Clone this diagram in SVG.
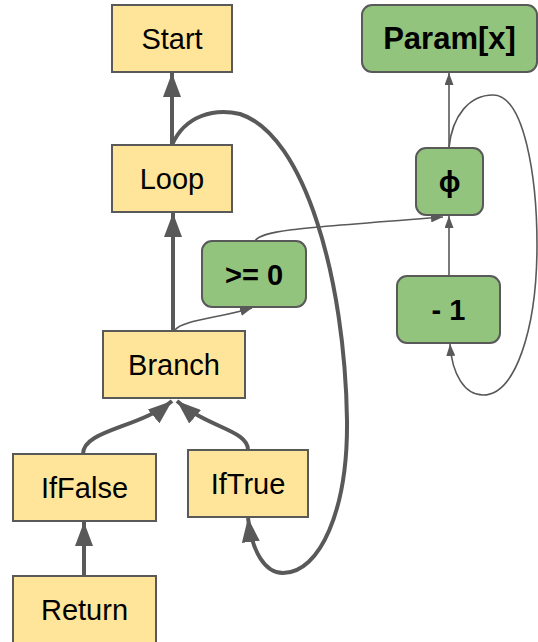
<svg xmlns="http://www.w3.org/2000/svg" width="538" height="642" viewBox="0 0 538 642">
  <defs>
    <style>
      .ctrl rect { fill: #FFE599; stroke: #595959; stroke-width: 2; }
      .val rect { fill: #93C47D; stroke: #595959; stroke-width: 2; }
      text { font-family: "Liberation Sans", Arial, sans-serif; font-size: 29px; fill: #000; text-anchor: middle; }
      .val text { font-weight: bold; }
      .thick { fill: none; stroke: #595959; stroke-width: 4; marker-end: url(#bigHead); }
      .thin { fill: none; stroke: #595959; stroke-width: 1.6; marker-end: url(#smallHead); }
    </style>
    <marker id="bigHead" markerUnits="userSpaceOnUse" markerWidth="24" markerHeight="18" refX="24" refY="9" orient="auto">
      <path d="M0,0 L24,9 L0,18 z" fill="#595959"/>
    </marker>
    <marker id="smallHead" markerUnits="userSpaceOnUse" markerWidth="12" markerHeight="9" refX="12" refY="4.5" orient="auto">
      <path d="M0,0 L12,4.5 L0,9 z" fill="#595959"/>
    </marker>
  </defs>

  <rect width="538" height="642" fill="#fff"/>

  <!-- edges -->
  <g id="connectors">
    <path class="thick" d="M172,145 L172,73"/>
    <path class="thick" d="M173,331 L173,213"/>
    <path class="thick" d="M84,576 L84,522"/>
    <path class="thick" d="M83,454 C83,430 140,428 172,401"/>
    <path class="thick" d="M248,450 C248,430 208,428 177,401"/>
    <path class="thick" d="M172,145 C185,115 215,108 240,114 C305,135 345,280 347,420 C348,510 320,573 283,573 C265,573 252,552 248,518"/>
    <path class="thin" d="M175,330 C182,320 220,318 252,308"/>
    <path class="thin" d="M255,241 C262,230 300,228 443,217"/>
    <path class="thin" d="M449,148 L449,73"/>
    <path class="thin" d="M449,276 L449,216"/>
    <path class="thin" d="M449,148 C452,115 470,95 493,95 C525,95 537,180 537,245 C537,330 515,395 483,395 C465,395 452,375 450,344"/>
  </g>

  <!-- control nodes -->
  <g id="start" class="ctrl">
    <rect x="112" y="5" width="120" height="67"/>
    <text x="172" y="49">Start</text>
  </g>
  <g id="loop" class="ctrl">
    <rect x="112" y="145" width="120" height="67"/>
    <text x="172" y="189">Loop</text>
  </g>
  <g id="branch" class="ctrl">
    <rect x="103" y="331" width="142" height="67"/>
    <text x="174" y="375">Branch</text>
  </g>
  <g id="iffalse" class="ctrl">
    <rect x="13" y="454" width="143" height="67"/>
    <text x="84.5" y="498">IfFalse</text>
  </g>
  <g id="iftrue" class="ctrl">
    <rect x="188" y="450" width="120" height="67"/>
    <text x="248" y="494">IfTrue</text>
  </g>
  <g id="return" class="ctrl">
    <rect x="13" y="576" width="143" height="67"/>
    <text x="84.5" y="619.5">Return</text>
  </g>

  <!-- value nodes -->
  <g id="param" class="val">
    <rect x="362" y="5" width="175" height="67" rx="10"/>
    <text x="449.5" y="49" style="font-size:31px">Param[x]</text>
  </g>
  <g id="phi" class="val">
    <rect x="416" y="148" width="67" height="67" rx="10"/>
    <text x="449.5" y="192">ϕ</text>
  </g>
  <g id="cmp" class="val">
    <rect x="202" y="241" width="104" height="66" rx="10"/>
    <text x="254" y="284.5">&gt;= 0</text>
  </g>
  <g id="dec" class="val">
    <rect x="397" y="276" width="103" height="67" rx="10"/>
    <text x="448.5" y="320">- 1</text>
  </g>
</svg>
